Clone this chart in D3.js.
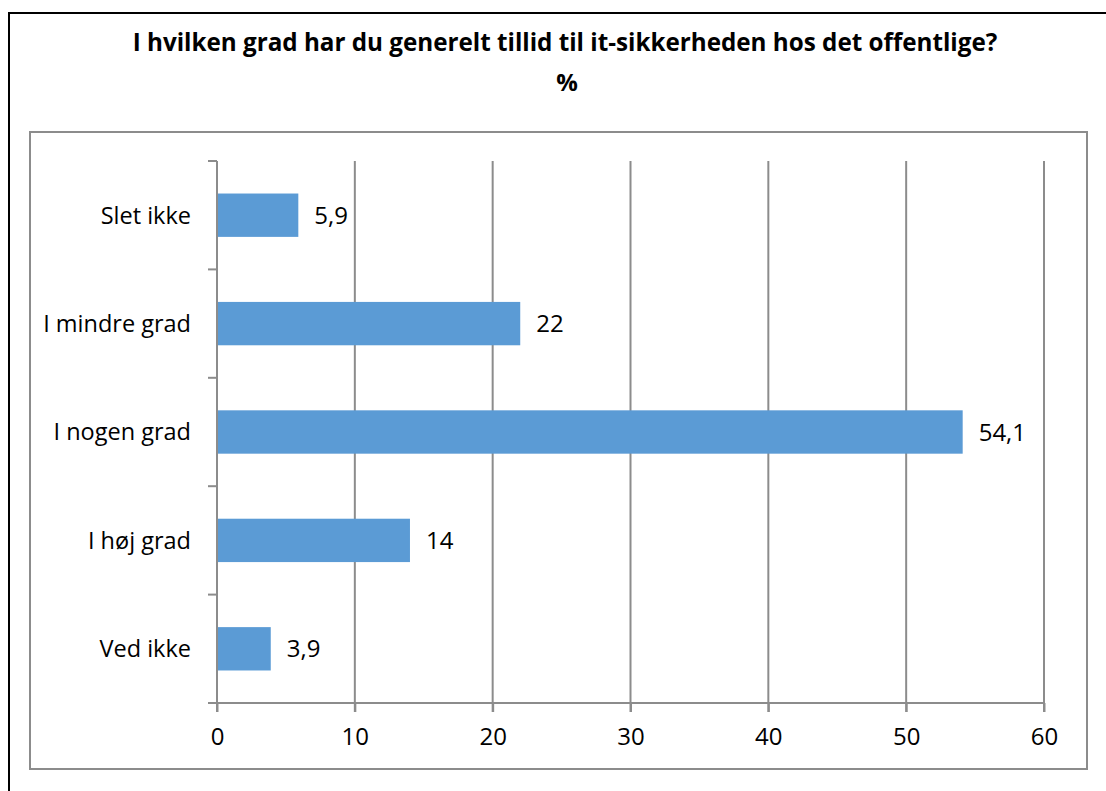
<!DOCTYPE html>
<html lang="en">
<head>
  <meta charset="utf-8">
  <script src="https://d3js.org/d3.v7.min.js"></script>
  <style>
    body { margin: 0; background: #fff; }
    text { font-family: "Open Sans", "Noto Sans", sans-serif; fill: #000; }
  </style>
</head>
<body>
  <div id="chart"></div>
  <script>
  const categories = ["Slet ikke", "I mindre grad", "I nogen grad", "I høj grad", "Ved ikke"]
  const values = [5.9, 22, 54.1, 14, 3.9]
  const valueLabels = ["5,9", "22", "54,1", "14", "3,9"]
  const xTicks = [0, 10, 20, 30, 40, 50, 60]
  const title = "I hvilken grad har du generelt tillid til it-sikkerheden hos det offentlige?"
  const subtitle = "%"

  const width = 1106
  const height = 791
  const plot = {left: 217, right: 1044, top: 161, bottom: 703}
  const gridColor = "#8c8c8c"

  const svg = d3.select("#chart").append("svg")
      .attr("width", width)
      .attr("height", height)

  svg.append("rect").attr("width", width).attr("height", height).attr("fill", "#fff")

  // outer frame (runs off the right and bottom edge)
  svg.append("path")
      .attr("d", `M9,${height + 5} V13 H${width + 5}`)
      .attr("fill", "none")
      .attr("stroke", "#000")
      .attr("stroke-width", 2)

  // plot area frame
  svg.append("rect")
      .attr("x", 30).attr("y", 132)
      .attr("width", 1087 - 30).attr("height", 769 - 132)
      .attr("fill", "none")
      .attr("stroke", gridColor)
      .attr("stroke-width", 2)

  // title, fitted to the reference width
  const t = svg.append("text")
      .attr("x", 565).attr("y", 51)
      .attr("text-anchor", "middle")
      .style("font-weight", "bold")
      .style("font-size", "22px")
      .text(title)
  const tl = t.node().getComputedTextLength()
  t.style("font-size", (22 * 865 / tl) + "px")

  svg.append("text")
      .attr("x", 567).attr("y", 91)
      .attr("text-anchor", "middle")
      .style("font-weight", "bold")
      .style("font-size", "24px")
      .text(subtitle)

  const x = d3.scaleLinear()
      .domain([0, 60])
      .range([plot.left, plot.right])

  const y = d3.scaleBand()
      .domain(categories)
      .range([plot.top, plot.bottom])
      .paddingInner(0.6)
      .paddingOuter(0.3)

  // vertical gridlines
  svg.append("g")
      .selectAll("line")
      .data(xTicks.slice(1))
      .join("line")
      .attr("x1", d => x(d)).attr("x2", d => x(d))
      .attr("y1", plot.top).attr("y2", plot.bottom + 9)
      .attr("stroke", gridColor)
      .attr("stroke-width", 2)

  // bars
  svg.append("g")
      .selectAll("rect")
      .data(values)
      .join("rect")
      .attr("x", x(0))
      .attr("y", (d, i) => y(categories[i]))
      .attr("width", d => x(d) - x(0))
      .attr("height", y.bandwidth())
      .attr("fill", "#5b9bd5")

  // value labels
  svg.append("g")
      .selectAll("text")
      .data(values)
      .join("text")
      .attr("x", d => x(d) + 16)
      .attr("y", (d, i) => y(categories[i]) + y.bandwidth() / 2)
      .attr("dy", "0.36em")
      .style("font-size", "24px")
      .text((d, i) => valueLabels[i])

  // x axis
  const xAxis = svg.append("g")
      .attr("transform", `translate(0,${plot.bottom})`)
      .call(d3.axisBottom(x).tickValues(xTicks).tickSize(9).tickPadding(16).tickFormat(d3.format("d")))
  xAxis.select(".domain")
      .attr("d", `M${plot.left - 9},0H${plot.right}`)
      .attr("stroke", gridColor).attr("stroke-width", 2)
  xAxis.selectAll(".tick line").attr("stroke", gridColor).attr("stroke-width", 2)
  xAxis.selectAll(".tick text").style("font-size", "24px").attr("font-family", null)

  // y axis: ticks at category boundaries
  const bounds = d3.range(categories.length + 1).map(i => plot.top + i * y.step())
  svg.append("line")
      .attr("x1", plot.left).attr("x2", plot.left)
      .attr("y1", plot.top).attr("y2", plot.bottom + 9)
      .attr("stroke", gridColor).attr("stroke-width", 2)
  svg.append("g")
      .selectAll("line")
      .data(bounds)
      .join("line")
      .attr("x1", plot.left - 9).attr("x2", plot.left)
      .attr("y1", d => d).attr("y2", d => d)
      .attr("stroke", gridColor).attr("stroke-width", 2)

  svg.append("g")
      .selectAll("text")
      .data(categories)
      .join("text")
      .attr("x", 191)
      .attr("y", d => y(d) + y.bandwidth() / 2)
      .attr("dy", "0.36em")
      .attr("text-anchor", "end")
      .style("font-size", "23.5px")
      .text(d => d)
  </script>
</body>
</html>
